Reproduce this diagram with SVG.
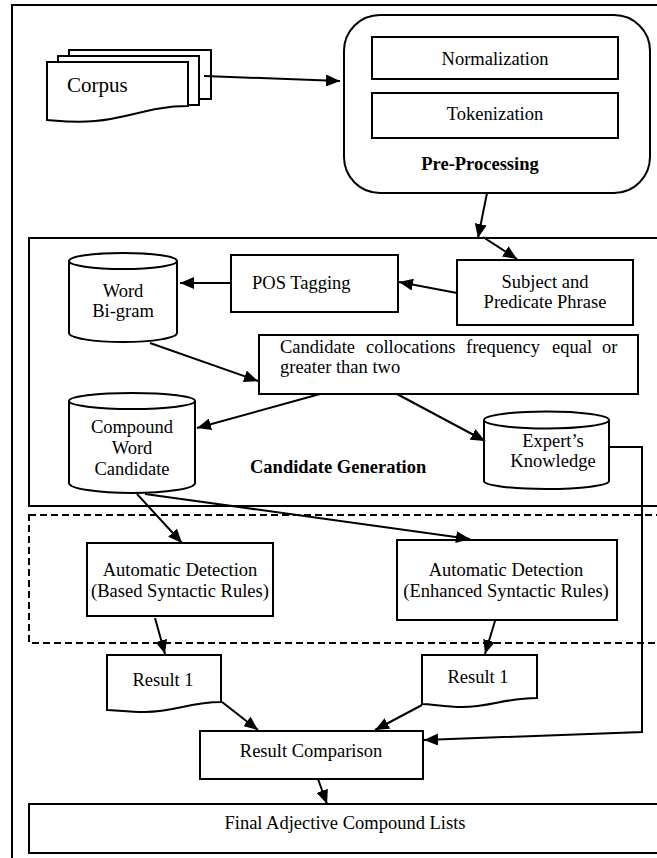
<svg xmlns="http://www.w3.org/2000/svg" width="657" height="858" viewBox="0 0 657 858" font-family="Liberation Serif, Times New Roman, serif">
<style>
.b{fill:#fff;stroke:#000;stroke-width:2}
.t{font-size:18.5px;fill:#000}
.c{text-anchor:middle}
.bold{font-weight:bold;font-size:18.5px}
.ar{fill:none;stroke:#000;stroke-width:2;marker-end:url(#ah)}
</style>
<defs>
<marker id="ah" viewBox="0 0 14 12" refX="14" refY="6" markerWidth="14" markerHeight="12" markerUnits="userSpaceOnUse" orient="auto">
<path d="M0,0 L14,6 L0,12 z" fill="#000"/>
</marker>
</defs>
<rect width="657" height="858" fill="#fff"/>
<rect id="frame" x="12" y="5" width="700" height="900" class="b" fill="none"/>
<g id="candidate-generation">
<rect x="29" y="238" width="700" height="268" class="b"/>
<text class="t bold" x="250" y="473">Candidate Generation</text>
</g>
<rect id="detection-area" x="29" y="515" width="700" height="128" fill="none" stroke="#000" stroke-width="2" stroke-dasharray="7 4"/>
<g id="corpus">
<rect x="69" y="50" width="142" height="49" class="b"/>
<rect x="58" y="56" width="141" height="49" class="b"/>
<path d="M47,62 H188 V106 C150,106 130,118 95,121 C75,123 60,121 47,120 Z" class="b"/>
<text class="t" x="67" y="92" font-size="21" style="font-size:21px">Corpus</text>
</g>
<g id="pre-processing">
<rect x="344" y="15" width="306" height="178" rx="36" class="b"/>
<text class="t bold c" x="480" y="170">Pre-Processing</text>
</g>
<g id="normalization">
<rect x="372" y="37" width="246" height="42" class="b"/>
<text class="t c" x="495" y="65">Normalization</text>
</g>
<g id="tokenization">
<rect x="372" y="93" width="246" height="45" class="b"/>
<text class="t c" x="495" y="120">Tokenization</text>
</g>
<g id="subject-predicate">
<rect x="457" y="260" width="176" height="65" class="b"/>
<text class="t c" x="545" y="288">Subject and</text>
<text class="t c" x="545" y="308">Predicate Phrase</text>
</g>
<g id="pos-tagging">
<rect x="231" y="255" width="167" height="57" class="b"/>
<text class="t" x="252" y="289">POS Tagging</text>
</g>
<g id="word-bigram">
<path d="M69,261 V333 A54,9 0 0 0 177,333 V261" class="b"/>
<ellipse cx="123" cy="261" rx="54" ry="8" class="b"/>
<text class="t c" x="123" y="297">Word</text>
<text class="t c" x="123" y="317">Bi-gram</text>
</g>
<g id="candidate-collocations">
<rect x="259" y="335" width="379" height="59" class="b"/>
<text class="t" y="353"><tspan x="280">Candidate</tspan><tspan x="366">collocations</tspan><tspan x="466">frequency</tspan><tspan x="552">equal</tspan><tspan x="602">or</tspan></text>
<text class="t" x="280" y="373">greater than two</text>
</g>
<g id="compound-word-candidate">
<path d="M69,401 V483 A63,10 0 0 0 195,483 V401" class="b"/>
<ellipse cx="132" cy="401" rx="63" ry="8" class="b"/>
<text class="t c" x="132" y="433">Compound</text>
<text class="t c" x="132" y="454">Word</text>
<text class="t c" x="132" y="475">Candidate</text>
</g>
<g id="experts-knowledge">
<path d="M484,420 V481 A62.5,8 0 0 0 609,481 V420" class="b"/>
<ellipse cx="546.5" cy="420" rx="62.5" ry="8.5" class="b"/>
<text class="t c" x="553" y="447">Expert’s</text>
<text class="t c" x="553" y="467">Knowledge</text>
</g>
<g id="auto-based">
<rect x="87" y="543" width="186" height="73" class="b"/>
<text class="t c" x="180" y="576">Automatic Detection</text>
<text class="t c" x="180" y="597">(Based Syntactic Rules)</text>
</g>
<g id="auto-enhanced">
<rect x="397" y="540" width="220" height="80" class="b"/>
<text class="t c" x="506" y="576">Automatic Detection</text>
<text class="t c" x="506" y="597">(Enhanced Syntactic Rules)</text>
</g>
<g id="result1-left">
<path d="M107,655 H221 V702 C190,702 175,712 145,712 C128,712 115,710 107,710 Z" class="b"/>
<text class="t c" x="163" y="686">Result 1</text>
</g>
<g id="result1-right">
<path d="M422,655 H537 V698 C505,698 490,707 462,707 C445,707 432,704 422,704 Z" class="b"/>
<text class="t c" x="478" y="683">Result 1</text>
</g>
<g id="result-comparison">
<rect x="200" y="731" width="223" height="48" class="b"/>
<text class="t c" x="311" y="757">Result Comparison</text>
</g>
<g id="final-lists">
<rect x="29" y="804" width="700" height="49" class="b"/>
<text class="t c" x="345" y="829">Final Adjective Compound Lists</text>
</g>
<g id="connectors">
<line x1="204" y1="76" x2="340" y2="81" class="ar"/>
<line x1="487" y1="193" x2="478" y2="238" class="ar"/>
<line x1="483" y1="237" x2="517" y2="259" class="ar"/>
<line x1="457" y1="293" x2="399" y2="282" class="ar"/>
<line x1="231" y1="283" x2="180" y2="283" class="ar"/>
<line x1="150" y1="343" x2="258" y2="381" class="ar"/>
<line x1="320" y1="394" x2="197" y2="428" class="ar"/>
<line x1="397" y1="394" x2="485" y2="441" class="ar"/>
<line x1="137" y1="494" x2="182" y2="543" class="ar"/>
<line x1="145" y1="494" x2="470" y2="539" class="ar"/>
<line x1="155" y1="618" x2="165" y2="654" class="ar"/>
<line x1="495" y1="621" x2="485" y2="654" class="ar"/>
<line x1="222" y1="702" x2="258" y2="730" class="ar"/>
<line x1="422" y1="705" x2="375" y2="730" class="ar"/>
<polyline points="609,447 642,447 642,732 424,740" class="ar"/>
<line x1="318" y1="779" x2="327" y2="804" class="ar"/>
</g>
</svg>
